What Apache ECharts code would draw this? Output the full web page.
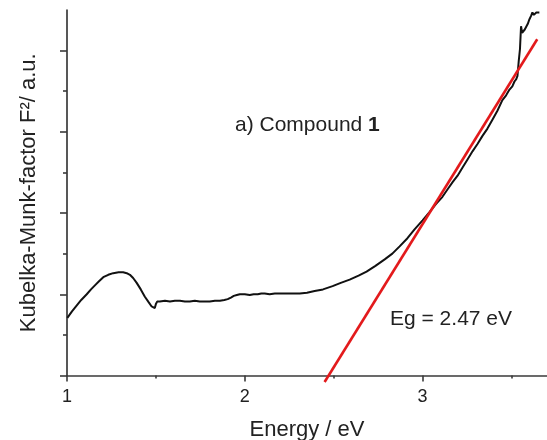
<!DOCTYPE html>
<html>
<head>
<meta charset="utf-8">
<script src="https://cdn.jsdelivr.net/npm/echarts@6/dist/echarts.min.js"></script>
<style>
html,body{margin:0;padding:0;background:#fff;}
#chart{width:547px;height:440px;}
</style>
</head>
<body>
<div id="chart"></div>
<script>
// Measured spectrum (Energy / eV vs Kubelka-Munk F^2, a.u.)
const energy = [1.002,1.028,1.054,1.080,1.111,1.135,1.157,1.180,1.204,1.232,1.260,1.290,1.316,1.336,1.354,1.372,1.392,1.415,1.438,1.460,1.476,1.486,1.494,1.500,1.507,1.522,1.551,1.579,1.607,1.635,1.663,1.691,1.719,1.747,1.775,1.803,1.832,1.860,1.885,1.904,1.922,1.938,1.955,1.972,2.000,2.028,2.050,2.073,2.093,2.112,2.140,2.169,2.200,2.225,2.253,2.281,2.309,2.350,2.393,2.440,2.494,2.540,2.590,2.640,2.685,2.735,2.787,2.830,2.871,2.915,2.955,3.000,3.039,3.075,3.112,3.140,3.169,3.197,3.225,3.253,3.281,3.309,3.337,3.365,3.393,3.421,3.449,3.470,3.489,3.505,3.517,3.527,3.534,3.541,3.548,3.554,3.560,3.567,3.575,3.583,3.592,3.600,3.611,3.618,3.626,3.633,3.640,3.646,3.657];
const kmF2   = [0.71,0.79,0.86,0.93,1.00,1.06,1.11,1.16,1.21,1.24,1.26,1.27,1.27,1.26,1.24,1.20,1.14,1.06,0.97,0.90,0.85,0.83,0.83,0.88,0.91,0.91,0.92,0.91,0.92,0.92,0.91,0.91,0.92,0.91,0.91,0.91,0.92,0.92,0.93,0.94,0.96,0.98,0.99,1.00,1.00,0.99,1.00,1.00,1.01,1.01,1.00,1.01,1.01,1.01,1.01,1.01,1.01,1.02,1.04,1.06,1.10,1.14,1.18,1.23,1.28,1.35,1.43,1.50,1.59,1.69,1.80,1.91,2.01,2.11,2.20,2.29,2.38,2.46,2.56,2.66,2.76,2.85,2.95,3.04,3.15,3.26,3.39,3.45,3.52,3.56,3.62,3.65,3.69,3.87,4.02,4.30,4.22,4.23,4.26,4.27,4.33,4.38,4.43,4.47,4.44,4.45,4.47,4.48,4.47];
// Linear fit (band gap extrapolation)
const fitEnergy = [2.449, 3.645];
const fitF2 = [-0.08, 4.14];
// Axis ticks
const xMajorTicks = [1, 2, 3];
const xMinorTicks = [1.5, 2.5, 3.5];
const xTickLabels = [1, 2, 3];
const yMajorTicks = [0, 1, 2, 3, 4];
const yMinorTicks = [0.5, 1.5, 2.5, 3.5];

const FONT = '"Liberation Sans", Arial, Helvetica, sans-serif';
const AX = '#3a3a3a';

const chart = echarts.init(document.getElementById('chart'), null, {renderer: 'canvas'});
chart.setOption({
  animation: false,
  backgroundColor: '#fff',
  grid: {left: 67, right: 0, top: 10, bottom: 64.5, containLabel: false, outerBoundsMode: 'none'},
  xAxis: [{
    type: 'value', min: 1, max: 3.7, interval: 0.5, position: 'bottom',
    name: 'Energy / eV', nameLocation: 'middle', nameGap: 43,
    nameTextStyle: {fontFamily: FONT, fontSize: 22, color: '#222'},
    axisLine: {show: true, onZero: false, lineStyle: {color: AX, width: 1.7}},
    axisTick: {show: true, inside: false, length: 3, customValues: xMinorTicks, lineStyle: {color: AX, width: 1.6}},
    axisLabel: {show: true, customValues: xTickLabels, margin: 13, fontFamily: FONT, fontSize: 18, color: '#222'},
    splitLine: {show: false}
  }, {
    type: 'value', min: 1, max: 3.7, interval: 0.5, position: 'bottom', offset: 0,
    axisLine: {show: false, onZero: false},
    axisTick: {show: true, inside: false, length: 6, customValues: xMajorTicks, lineStyle: {color: AX, width: 1.6}},
    axisLabel: {show: false},
    splitLine: {show: false}
  }],
  yAxis: [{
    type: 'value', min: 0, max: 4.5, interval: 0.5, position: 'left',
    name: 'Kubelka-Munk-factor F\u00B2/ a.u.', nameLocation: 'middle', nameGap: 27,
    nameTextStyle: {fontFamily: FONT, fontSize: 22, color: '#222'},
    axisLine: {show: true, onZero: false, lineStyle: {color: AX, width: 1.7}},
    axisTick: {show: true, inside: false, length: 4, customValues: yMinorTicks, lineStyle: {color: AX, width: 1.6}},
    axisLabel: {show: false},
    splitLine: {show: false}
  }, {
    type: 'value', min: 0, max: 4.5, interval: 0.5, position: 'left', offset: 0,
    axisLine: {show: false, onZero: false},
    axisTick: {show: true, inside: false, length: 7, customValues: yMajorTicks, lineStyle: {color: AX, width: 1.6}},
    axisLabel: {show: false},
    splitLine: {show: false}
  }],
  series: [{
    type: 'line', xAxisIndex: 0, yAxisIndex: 0,
    data: energy.map((e, i) => [e, kmF2[i]]),
    showSymbol: false, symbol: 'none', smooth: false,
    lineStyle: {color: '#111', width: 2},
    z: 2
  }, {
    type: 'line', xAxisIndex: 0, yAxisIndex: 0,
    data: fitEnergy.map((e, i) => [e, fitF2[i]]),
    showSymbol: false, symbol: 'none', clip: false,
    lineStyle: {color: '#e31a1c', width: 2.6},
    z: 3
  }],
  graphic: [{
    type: 'text', left: 235, top: 115,
    style: {
      text: '{n|a) Compound }{b|1}',
      rich: {
        n: {fontFamily: FONT, fontSize: 21, fill: '#222'},
        b: {fontFamily: FONT, fontSize: 21, fontWeight: 'bold', fill: '#222'}
      }
    }
  }, {
    type: 'text', left: 390, top: 309,
    style: {text: 'Eg = 2.47 eV', fontFamily: FONT, fontSize: 21, fill: '#222'}
  }]
});
</script>
</body>
</html>
